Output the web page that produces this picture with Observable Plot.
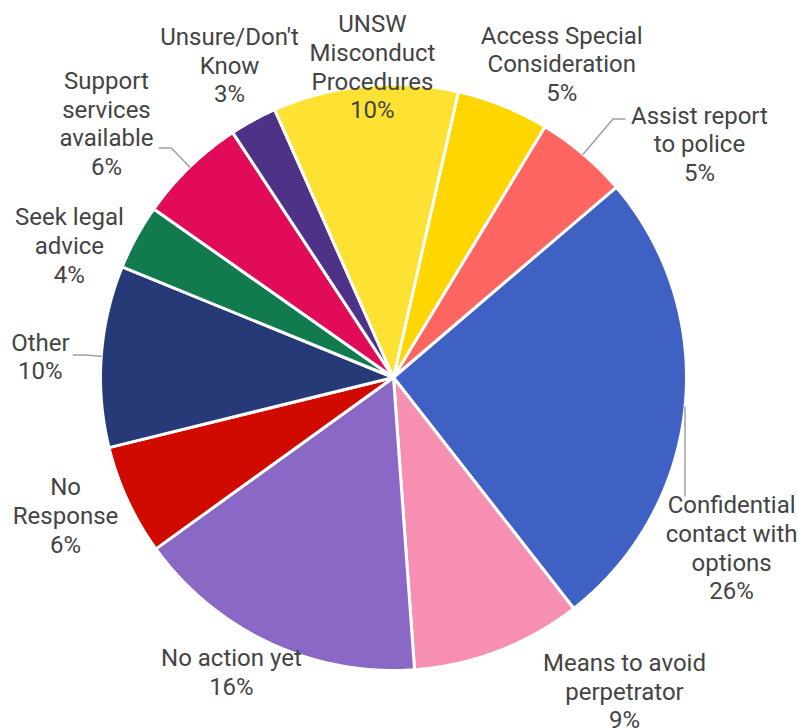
<!DOCTYPE html>
<html><head><meta charset="utf-8">
<script src="https://cdn.jsdelivr.net/npm/d3@7"></script>
<script src="https://cdn.jsdelivr.net/npm/@observablehq/plot@0.6"></script>
<style>html,body{margin:0;padding:0;background:#fff;}</style>
</head><body><div id="chart"></div>
<script>
// ---- data ----
const categories = ["Access Special Consideration","Assist report to police","Confidential contact with options","Means to avoid perpetrator","No action yet","No Response","Other","Seek legal advice","Support services available","Unsure/Don't Know","UNSW Misconduct Procedures"];
const values = [5.1, 5.1, 25.7, 9.4, 16.2, 6.1, 10.0, 3.6, 6.0, 2.6, 10.2];
const percentLabels = ["5%","5%","26%","9%","16%","6%","10%","4%","6%","3%","10%"];
const labelText = ["Access Special\nConsideration","Assist report\nto police","Confidential\ncontact with\noptions","Means to avoid\nperpetrator","No action yet","No\nResponse","Other","Seek legal\nadvice","Support\nservices\navailable","Unsure/Don't\nKnow","UNSW\nMisconduct\nProcedures"];
const colors = ["#FFD600","#FF6661","#3F61C3","#F78FB3","#8A69C6","#D10A00","#263A78","#117A4F","#E20B5A","#4E3287","#FEE233"];

// ---- layout ----
const W = 798, H = 728, CX = 393, CY = 377, R = 293;
const startDeg = 12.8;
const labelAngle  = [28.3, 52.8, 116.9, 143.75, 208.7, 247.0, 273.2, 292.0, 311.35, 332.2, 356.1];
const labelRadius = [1.211, 1.311, 1.294, 1.333, 1.152, 1.216, 1.207, 1.193, 1.305, 1.2, 1.059];
const leaders = [
  {i: 1, elbow: 1.157, run: 12},
  {i: 6, elbow: 1.055, run: -12},
  {i: 8, elbow: 1.09, run: -12},
  {i: 2, drop: 89}
];

const rad = d => d * Math.PI / 180;
const pie = d3.pie().sort(null).value(d => d)
  .startAngle(rad(startDeg)).endAngle(rad(startDeg) + 2 * Math.PI);
const arcs = pie(values);

const polyPts = [];
arcs.forEach((a, i) => {
  const name = categories[i];
  polyPts.push({name, x: 0, y: 0});
  const n = Math.max(2, Math.ceil((a.endAngle - a.startAngle) / (Math.PI / 360)));
  for (let k = 0; k <= n; k++) {
    const t = a.startAngle + (a.endAngle - a.startAngle) * k / n;
    polyPts.push({name, x: Math.sin(t), y: Math.cos(t)});
  }
  polyPts.push({name, x: 0, y: 0});
});

const leaderPts = [];
leaders.forEach((L, j) => {
  const a = arcs[L.i];
  const m = (a.startAngle + a.endAngle) / 2;
  const sx = Math.sin(m), sy = Math.cos(m);
  leaderPts.push({id: j, x: sx, y: sy});
  if (L.drop !== undefined) {
    leaderPts.push({id: j, x: sx, y: sy - L.drop / R});
  } else {
    const ex = sx * L.elbow, ey = sy * L.elbow;
    leaderPts.push({id: j, x: ex, y: ey});
    leaderPts.push({id: j, x: ex + L.run / R, y: ey});
  }
});

const labelRows = categories.map((c, i) => ({
  text: labelText[i] + "\n" + percentLabels[i],
  x: Math.sin(rad(labelAngle[i])) * labelRadius[i],
  y: Math.cos(rad(labelAngle[i])) * labelRadius[i]
}));

const chart = Plot.plot({
  width: W, height: H, margin: 0,
  x: {domain: [-CX / R, (W - CX) / R], axis: null},
  y: {domain: [-(H - CY) / R, CY / R], axis: null},
  color: {domain: categories, range: colors},
  style: {fontFamily: "Roboto, sans-serif", background: "#fff"},
  marks: [
    Plot.line(polyPts, {x: "x", y: "y", z: "name", fill: "name", stroke: "#fff", strokeWidth: 3, strokeLinejoin: "round"}),
    Plot.line(leaderPts, {x: "x", y: "y", z: "id", stroke: "#a0a0a0", strokeWidth: 1.5}),
    Plot.text(labelRows, {x: "x", y: "y", text: "text", fontSize: 24, lineHeight: 1.2, fill: "#444", textAnchor: "middle", dy: -2})
  ]
});
document.getElementById("chart").appendChild(chart);
</script>
</body></html>
